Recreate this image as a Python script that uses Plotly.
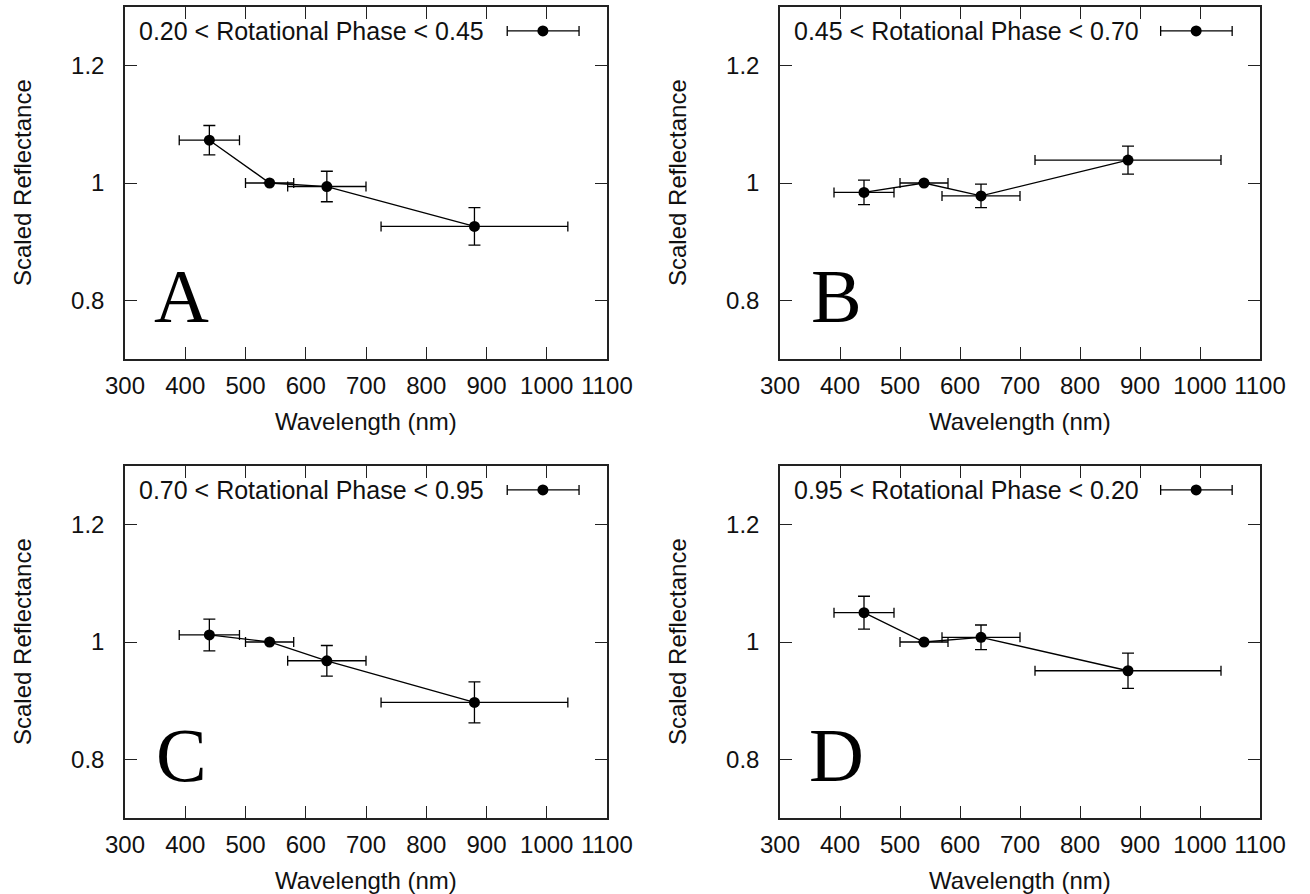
import plotly.graph_objects as go

# ---------------- data ----------------
wavelength = [440, 540, 635, 880]
wavelength_err = [50, 40, 65, 155]

refl_A = [1.073, 1.000, 0.994, 0.926]
err_A = [0.025, 0.0, 0.026, 0.032]
refl_B = [0.984, 1.000, 0.978, 1.039]
err_B = [0.021, 0.0, 0.020, 0.024]
refl_C = [1.012, 1.000, 0.968, 0.897]
err_C = [0.027, 0.0, 0.026, 0.035]
refl_D = [1.050, 1.000, 1.008, 0.951]
err_D = [0.028, 0.0, 0.021, 0.030]

panel_letters = ["A", "B", "C", "D"]
legend_labels = [
    "0.20 < Rotational Phase < 0.45",
    "0.45 < Rotational Phase < 0.70",
    "0.70 < Rotational Phase < 0.95",
    "0.95 < Rotational Phase < 0.20",
]
x_ticks = [300, 400, 500, 600, 700, 800, 900, 1000, 1100]
y_ticks = [0.8, 1.0, 1.2]
y_ticktext = ["0.8", "1", "1.2"]

series = [(refl_A, err_A), (refl_B, err_B), (refl_C, err_C), (refl_D, err_D)]

# ---------------- layout geometry ----------------
W, H = 1310, 894
col_px = [(125, 607), (780, 1260)]
row_px = [(7, 359), (466, 818)]

FONT = "Liberation Sans"
LETTER_FONT = "Liberation Serif"
TXT = "#111111"
LINE = "#222222"

fig = go.Figure()
layout_axes = {}
annotations = []
shapes = []

for i, (vals, errs) in enumerate(series):
    r, c = divmod(i, 2)
    xn = "" if i == 0 else str(i + 1)
    xa, ya = "x" + xn, "y" + xn
    fig.add_trace(go.Scatter(
        x=wavelength, y=vals, xaxis=xa, yaxis=ya,
        mode="lines+markers",
        line=dict(color="black", width=1.3),
        marker=dict(color="black", size=11),
        error_x=dict(type="data", array=wavelength_err, color="black",
                     thickness=1.3, width=5),
        error_y=dict(type="data", array=errs, color="black",
                     thickness=1.3, width=6),
        showlegend=False, hoverinfo="x+y",
    ))
    x0, x1 = col_px[c]
    y0, y1 = row_px[r]
    common = dict(showline=True, linecolor=LINE, linewidth=1.5, mirror="ticks",
                  ticks="inside", ticklen=12, tickwidth=1.3, tickcolor=LINE,
                  showgrid=False, zeroline=False, automargin=False,
                  tickfont=dict(family=FONT, size=24, color=TXT))
    layout_axes["xaxis" + xn] = dict(
        domain=[x0 / W, x1 / W], anchor=ya, range=[300, 1100],
        tickvals=x_ticks, tickangle=0, ticklabelstandoff=4, **common)
    layout_axes["yaxis" + xn] = dict(
        domain=[1 - y1 / H, 1 - y0 / H], anchor=xa, range=[0.7, 1.3],
        tickvals=y_ticks, ticktext=y_ticktext, ticklabelstandoff=14, **common)

    xd, yd = xa + " domain", ya + " domain"
    # axis titles
    annotations.append(dict(text="Wavelength (nm)", xref=xd, yref=yd, x=0.5, y=0,
                            yshift=-62, xanchor="center", yanchor="middle",
                            showarrow=False, font=dict(family=FONT, size=24, color=TXT)))
    annotations.append(dict(text="Scaled Reflectance", xref=xd, yref=yd, x=0, y=0.5,
                            xshift=-103, xanchor="center", yanchor="middle",
                            textangle=-90, showarrow=False,
                            font=dict(family=FONT, size=24, color=TXT)))
    # legend text
    annotations.append(dict(text=legend_labels[i], xref=xd, yref=yd, x=0.024, y=0.932,
                            xanchor="left", yanchor="middle", showarrow=False,
                            font=dict(family=FONT, size=25, color=TXT)))
    # panel letter
    annotations.append(dict(text=panel_letters[i], xref=xd, yref=yd, x=0.117, y=0.18,
                            xanchor="center", yanchor="middle", showarrow=False,
                            font=dict(family=LETTER_FONT, size=76, color="black")))
    # legend key: horizontal error bar with marker
    ly = 0.932
    lx0, lx1, lxm = 0.793, 0.942, 0.867
    shapes.append(dict(type="line", xref=xd, yref=yd, x0=lx0, x1=lx1, y0=ly, y1=ly,
                       line=dict(color="black", width=1.3)))
    for ex in (lx0, lx1):
        shapes.append(dict(type="line", xref=xd, yref=yd, xsizemode="scaled",
                           ysizemode="pixel", yanchor=ly, x0=ex, x1=ex, y0=-5, y1=5,
                           line=dict(color="black", width=1.3)))
    shapes.append(dict(type="circle", xref=xd, yref=yd, xsizemode="pixel",
                       ysizemode="pixel", xanchor=lxm, yanchor=ly,
                       x0=-5.5, x1=5.5, y0=-5.5, y1=5.5,
                       fillcolor="black", line=dict(color="black", width=0)))

fig.update_layout(
    width=W, height=H, margin=dict(l=0, r=0, t=0, b=0, autoexpand=False),
    paper_bgcolor="white", plot_bgcolor="white",
    annotations=annotations, shapes=shapes, **layout_axes,
)

fig.write_html("out.html")
